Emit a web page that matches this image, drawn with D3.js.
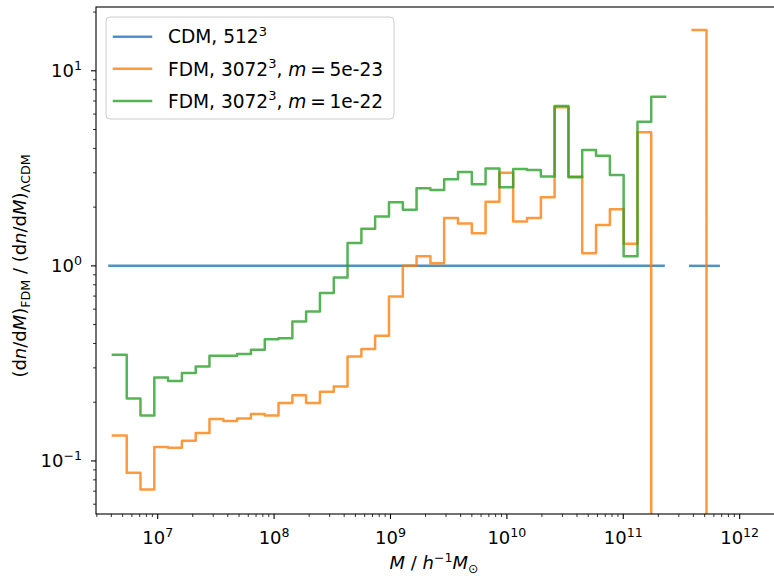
<!DOCTYPE html>
<html><head><meta charset="utf-8">
<script src="https://cdn.jsdelivr.net/npm/d3@7"></script>
<style>
html,body{margin:0;padding:0;background:#fff;}
svg{display:block;font-family:"DejaVu Sans",sans-serif;}
</style></head>
<body><svg id="chart" width="774" height="576"></svg>
<script>
// ---- data ----
// log10 of FDM bin edges (M / h^-1 Msun)
const fdmLogEdges = [6.615,6.734,6.852,6.971,7.089,7.208,7.327,7.445,7.564,7.682,
  7.801,7.920,8.038,8.157,8.275,8.394,8.513,8.631,8.750,8.868,
  8.987,9.106,9.224,9.343,9.461,9.580,9.699,9.817,9.936,10.054,
  10.173,10.292,10.410,10.529,10.647,10.766,10.885,11.003,11.122,11.240,
  11.359,11.478,11.596,11.715,11.833];
// ratio values per bin (0 = empty bin, null = undefined)
const fdm5e23 = [0.135,0.087,0.0713,0.118,0.117,0.127,0.139,0.164,0.160,0.165,
  0.174,0.171,0.198,0.217,0.198,0.226,0.241,0.343,0.375,0.438,
  0.697,1.0,1.12,1.03,1.76,1.65,1.47,2.13,3.0,1.69,
  1.76,2.25,6.50,2.87,1.16,1.62,1.95,1.30,4.84,0,
  null,null,16.2,0];
const fdm1e22 = [0.350,0.209,0.171,0.268,0.257,0.282,0.305,0.346,0.346,0.353,
  0.371,0.421,0.426,0.519,0.583,0.725,0.871,1.31,1.55,1.79,
  2.12,1.94,2.50,2.45,2.78,3.03,2.62,3.16,2.53,3.14,
  3.10,2.87,6.59,2.85,3.93,3.67,2.92,1.12,5.48,7.36];
// CDM/CDM ratio: mass ranges where it is defined, value 1
const cdmRanges = [[3.85e6, 2.22e11],[3.76e11, 6.6e11]];
const cdmValue = 1;
const xMajorTicks = [1e7,1e8,1e9,1e10,1e11,1e12];
const xTickExp = ["7","8","9","10","11","12"];
const yMajorTicks = [0.1,1,10];
const yTickExp = ["\u22121","0","1"];
const seriesLabels = ["CDM, 512","FDM, 3072","FDM, 3072"];
const massParams = ["", "5e-23", "1e-22"];
const colors = ["#1f77b4","#ff7f0e","#2ca02c"];

// ---- layout ----
const L=96,T=7,R=776,B=514;
const FS=18, LFS=18.6;
const svg=d3.select("#chart");
const x=d3.scaleLog().domain([Math.pow(10,6.47),Math.pow(10,12.312)]).range([L,R]);
const y=d3.scaleLog().domain([Math.pow(10,-1.272),Math.pow(10,1.327)]).range([B,T]);

svg.append("defs").append("clipPath").attr("id","clip")
  .append("rect").attr("x",L).attr("y",T).attr("width",R-L).attr("height",B-T);

function rich(sel, parts, size){
  let shift=0;
  parts.forEach(p=>{
    const ts=sel.append("tspan").text(p.t);
    const target = p.sup ? -0.4*size : (p.sub ? 0.22*size : 0);
    if(target-shift!==0) ts.attr("dy",target-shift);
    shift=target;
    if(p.sup||p.sub) ts.attr("font-size",size*0.7);
    if(p.it) ts.attr("font-style","italic");
  });
}

// ---- lines ----
const g=svg.append("g").attr("clip-path","url(#clip)");
const yv=v=> v===0 ? y(1e-6) : y(v);
function stepPoints(edgesLog, vals){
  const pts=[];
  vals.forEach((v,i)=>{
    if(v===null){pts.push(null);return;}
    pts.push([x(Math.pow(10,edgesLog[i])),yv(v)]);
    pts.push([x(Math.pow(10,edgesLog[i+1])),yv(v)]);
  });
  return pts;
}
const line=d3.line().defined(d=>d!==null).x(d=>d[0]).y(d=>d[1]);
const lineStyle=(p,c)=>p.attr("fill","none").attr("stroke",c).attr("stroke-width",2.5)
  .attr("stroke-opacity",0.8).attr("stroke-linejoin","round").attr("stroke-linecap","square");

cdmRanges.forEach(r=>{
  lineStyle(g.append("path").attr("d",line([[x(r[0]),y(cdmValue)],[x(r[1]),y(cdmValue)]])),colors[0]);
});
lineStyle(g.append("path").attr("d",line(stepPoints(fdmLogEdges,fdm5e23))),colors[1]);
lineStyle(g.append("path").attr("d",line(stepPoints(fdmLogEdges,fdm1e22))),colors[2]);

// ---- axes ----
const ax=svg.append("g").attr("stroke","#000");
const xMinor=[];
for(let k=6;k<=12;k++)for(let m=2;m<=9;m++){const v=m*Math.pow(10,k);if(x(v)>=L&&x(v)<=R)xMinor.push(v);}
const yMinor=[];
for(let k=-2;k<=1;k++)for(let m=2;m<=9;m++){const v=m*Math.pow(10,k);if(y(v)>=T&&y(v)<=B)yMinor.push(v);}
xMinor.forEach(v=>ax.append("line").attr("x1",x(v)).attr("x2",x(v)).attr("y1",B).attr("y2",B+3).attr("stroke-width",0.8));
xMajorTicks.forEach(v=>ax.append("line").attr("x1",x(v)).attr("x2",x(v)).attr("y1",B).attr("y2",B+5).attr("stroke-width",1.1));
yMinor.forEach(v=>ax.append("line").attr("y1",y(v)).attr("y2",y(v)).attr("x1",L).attr("x2",L-3).attr("stroke-width",0.8));
yMajorTicks.forEach(v=>ax.append("line").attr("y1",y(v)).attr("y2",y(v)).attr("x1",L).attr("x2",L-5).attr("stroke-width",1.1));
svg.append("rect").attr("x",L).attr("y",T).attr("width",R-L).attr("height",B-T)
  .attr("fill","none").attr("stroke","#000").attr("stroke-width",1.1);

// tick labels
xMajorTicks.forEach((v,i)=>{
  const t=svg.append("text").attr("x",x(v)).attr("y",544).attr("text-anchor","middle").attr("font-size",FS);
  rich(t,[{t:"10"},{t:xTickExp[i],sup:true}],FS);
});
yMajorTicks.forEach((v,i)=>{
  const t=svg.append("text").attr("x",82).attr("y",y(v)+6.5).attr("text-anchor","end").attr("font-size",FS);
  rich(t,[{t:"10"},{t:yTickExp[i],sup:true}],FS);
});

// axis labels
const xl=svg.append("text").attr("x",434).attr("y",569).attr("text-anchor","middle").attr("font-size",FS);
rich(xl,[{t:"M",it:true},{t:" / "},{t:"h",it:true},{t:"\u22121",sup:true},{t:"M",it:true},{t:"\u2299",sub:true}],FS);
const yl=svg.append("text").attr("transform","translate(26,266) rotate(-90)").attr("text-anchor","middle").attr("font-size",FS);
rich(yl,[{t:"(d"},{t:"n",it:true},{t:"/d"},{t:"M",it:true},{t:")"},{t:"FDM",sub:true},
  {t:" / (d"},{t:"n",it:true},{t:"/d"},{t:"M",it:true},{t:")"},{t:"\u039BCDM",sub:true}],FS);

// ---- legend ----
const lg=svg.append("g");
lg.append("rect").attr("x",106).attr("y",17).attr("width",288).attr("height",102).attr("rx",4)
  .attr("fill","#fff").attr("fill-opacity",0.8).attr("stroke","#cccccc").attr("stroke-width",1);
const rowsY=[36.7,68.8,100.9];
seriesLabels.forEach((lab,i)=>{
  lineStyle(lg.append("path").attr("d",`M${114},${rowsY[i]}H${151}`),colors[i]);
  const t=lg.append("text").attr("x",168).attr("y",rowsY[i]+6.7).attr("font-size",LFS);
  const parts=[{t:lab},{t:"3",sup:true}];
  if(massParams[i]){parts.push({t:", "},{t:"m",it:true},{t:"\u2009=\u2009"},{t:massParams[i]});}
  rich(t,parts,LFS);
});
</script></body></html>
